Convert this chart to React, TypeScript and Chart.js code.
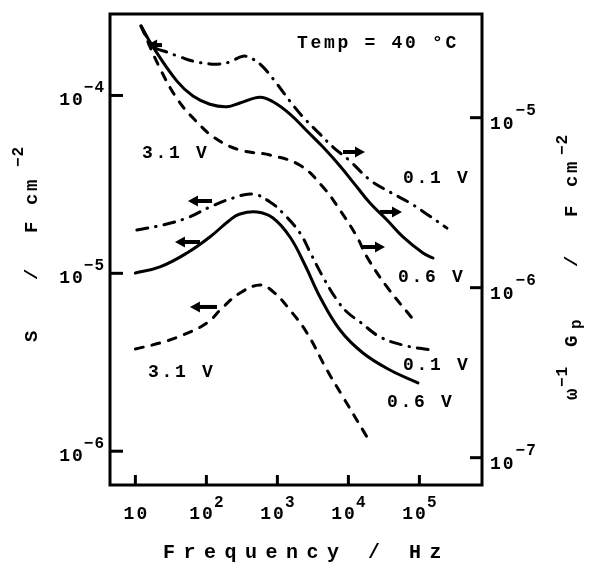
import React, { useEffect, useRef } from 'react';
import { Chart, registerables } from 'chart.js';
Chart.register(...registerables);

// ---- axis ticks (decades) ----
const xTickValues = [10, 100, 1000, 10000, 100000];
const xTickExps = ['', '2', '3', '4', '5'];
const leftTickValues = [1e-4, 1e-5, 1e-6];
const leftTickExps = ['−4', '−5', '−6'];
const rightTickValues = [1e-5, 1e-6, 1e-7];
const rightTickExps = ['−5', '−6', '−7'];

// ---- upper group: ω⁻¹Gp (right axis) ----
const fUp01 = [12.0, 17.7, 27.9, 42.5, 64.7, 112, 155, 215, 328, 453, 627, 987, 1505, 2294, 3981, 6067, 10530, 20140, 38550, 73760, 132200, 244700];
const vUp01 = [3.46e-5, 2.64e-5, 2.43e-5, 2.28e-5, 2.15e-5, 2.07e-5, 2.07e-5, 2.13e-5, 2.30e-5, 2.21e-5, 1.99e-5, 1.58e-5, 1.25e-5, 1.01e-5, 8.01e-6, 6.72e-6, 5.56e-6, 4.30e-6, 3.65e-6, 3.15e-6, 2.68e-6, 2.24e-6];
const fUp06 = [12.0, 17.7, 38.5, 64.7, 112, 195, 297, 569, 867, 1505, 2612, 4389, 7616, 13210, 20140, 34980, 58750, 112400, 155500];
const vUp06 = [3.46e-5, 2.61e-5, 1.64e-5, 1.34e-5, 1.20e-5, 1.16e-5, 1.22e-5, 1.32e-5, 1.24e-5, 1.05e-5, 8.35e-6, 6.72e-6, 5.20e-6, 3.91e-6, 3.15e-6, 2.50e-6, 1.99e-6, 1.60e-6, 1.495e-6];
const fUp31 = [12.0, 22.2, 39.8, 69.1, 132, 297, 787, 2081, 4389, 7616, 13210, 18280, 34980, 78660];
const vUp31 = [3.46e-5, 1.95e-5, 1.27e-5, 9.69e-6, 7.59e-6, 6.45e-6, 6.03e-6, 5.25e-6, 3.91e-6, 2.86e-6, 1.99e-6, 1.515e-6, 1.01e-6, 6.64e-7];

// ---- lower group: S (left axis) ----
const fLo01 = [10.5, 24.5, 53.3, 112, 237, 453, 787, 1199, 2081, 2878, 4389, 6906, 9556, 14560, 27860, 58750, 141000];
const vLo01 = [1.753e-5, 1.871e-5, 2.048e-5, 2.36e-5, 2.65e-5, 2.79e-5, 2.52e-5, 2.18e-5, 1.686e-5, 1.318e-5, 9.54e-6, 7.08e-6, 6.06e-6, 5.33e-6, 4.39e-6, 3.95e-6, 3.71e-6];
const fLo06 = [10.0, 22.2, 53.3, 112, 215, 297, 516, 867, 1505, 2447, 3981, 7616, 16060, 38550, 95500];
const vLo06 = [1.004e-5, 1.086e-5, 1.301e-5, 1.601e-5, 1.995e-5, 2.157e-5, 2.213e-5, 2.048e-5, 1.601e-5, 1.114e-5, 7.36e-6, 4.80e-6, 3.565e-6, 2.86e-6, 2.42e-6];
const fLo31 = [10.0, 22.2, 46.8, 102, 167, 297, 569, 867, 1505, 2612, 4995, 8395, 18280];
const vLo31 = [3.755e-6, 4.06e-6, 4.50e-6, 5.26e-6, 6.39e-6, 7.75e-6, 8.60e-6, 7.9e-6, 6.22e-6, 4.62e-6, 2.86e-6, 2.018e-6, 1.202e-6];

// ---- text annotations (data coords, left axis) ----
const labelTexts = ['Temp = 40 °C', '3.1 V', '3.1 V', '0.1 V', '0.6 V', '0.1 V', '0.6 V'];
const labelFreq = [1888, 12.4, 15.0, 58750, 49950, 58750, 34980];
const labelVal = [1.85e-4, 4.45e-5, 2.614e-6, 3.22e-5, 8.94e-6, 2.86e-6, 1.772e-6];

// ---- arrows (data coords, left axis): tail -> head ----
const arrowFrom = [8395, 27860, 16060, 120, 81.3, 141, 23.7];
const arrowTo = [17130, 56880, 32770, 55.0, 36.1, 58.7, 14.6];
const arrowVal = [4.81e-5, 2.213e-5, 1.406e-5, 2.55e-5, 1.50e-5, 6.47e-6, 1.92e-4];

const MONO = '"Liberation Mono", "DejaVu Sans Mono", monospace';
const BASE = `bold 18px ${MONO}`;
const EXP = `bold 16px ${MONO}`;
const TITLE = `bold 19px ${MONO}`;

function spacedWidth(ctx: CanvasRenderingContext2D, text: string, sp: number) {
  let w = 0;
  for (const ch of text) w += ctx.measureText(ch).width + sp;
  return w - sp;
}
function drawSpaced(ctx: CanvasRenderingContext2D, text: string, x: number, y: number, sp: number) {
  let cx = x;
  for (const ch of text) {
    ctx.fillText(ch, cx, y);
    cx += ctx.measureText(ch).width + sp;
  }
  return cx - sp;
}

type Seg = { t: string; d: number; o: number; f: string; sp: number };

function drawVertical(ctx: CanvasRenderingContext2D, bx: number, oy: number, segs: Seg[]) {
  ctx.save();
  ctx.translate(bx, oy);
  ctx.rotate(-Math.PI / 2);
  for (const s of segs) {
    ctx.font = s.f;
    drawSpaced(ctx, s.t, s.d, -s.o, s.sp);
  }
  ctx.restore();
}

const overlay = {
  id: 'overlay',
  afterDraw(chart: any) {
    const { ctx, chartArea: a, scales } = chart;
    const sx = scales.x, sy = scales.y, sy1 = scales.y1;
    ctx.save();
    ctx.strokeStyle = '#000';
    ctx.fillStyle = '#000';
    ctx.lineWidth = 3;
    ctx.lineCap = 'butt';
    ctx.strokeRect(a.left, a.top, a.right - a.left, a.bottom - a.top);

    const seg = (x1: number, y1: number, x2: number, y2: number) => {
      ctx.beginPath(); ctx.moveTo(x1, y1); ctx.lineTo(x2, y2); ctx.stroke();
    };
    // inward ticks
    xTickValues.forEach((v) => { const p = sx.getPixelForValue(v); seg(p, a.bottom, p, a.bottom - 10); });
    leftTickValues.forEach((v) => { const p = sy.getPixelForValue(v); seg(a.left, p, a.left + 13, p); });
    rightTickValues.forEach((v) => { const p = sy1.getPixelForValue(v); seg(a.right, p, a.right - 12, p); });

    ctx.textBaseline = 'alphabetic';
    ctx.textAlign = 'left';
    // x tick labels
    xTickValues.forEach((v, i) => {
      const p = sx.getPixelForValue(v);
      ctx.font = BASE;
      const w10 = spacedWidth(ctx, '10', 2);
      const e = xTickExps[i];
      ctx.font = EXP;
      const we = e ? spacedWidth(ctx, e, 1) + 1 : 0;
      const start = p - (w10 + we) / 2;
      ctx.font = BASE;
      drawSpaced(ctx, '10', start, a.bottom + 34, 2);
      if (e) { ctx.font = EXP; drawSpaced(ctx, e, start + w10 + 1, a.bottom + 22, 1); }
    });
    // left tick labels
    leftTickValues.forEach((v, i) => {
      const p = sy.getPixelForValue(v);
      ctx.font = EXP;
      const we = spacedWidth(ctx, leftTickExps[i], 1);
      ctx.font = BASE;
      const w10 = spacedWidth(ctx, '10', 2);
      const right = a.left - 6;
      drawSpaced(ctx, '10', right - we - 1 - w10, p + 10, 2);
      ctx.font = EXP;
      drawSpaced(ctx, leftTickExps[i], right - we, p - 3, 1);
    });
    // right tick labels
    rightTickValues.forEach((v, i) => {
      const p = sy1.getPixelForValue(v);
      ctx.font = BASE;
      const end = drawSpaced(ctx, '10', a.right + 8, p + 11, 2);
      ctx.font = EXP;
      drawSpaced(ctx, rightTickExps[i], end + 2, p - 3, 1);
    });

    // axis titles
    ctx.font = `bold 20px ${MONO}`;
    drawSpaced(ctx, 'Frequency / Hz', 163, 558, 8.5);
    drawVertical(ctx, 37, 342, [
      { t: 'S', d: 0, o: 0, f: TITLE, sp: 0 },
      { t: '/', d: 62, o: 0, f: TITLE, sp: 0 },
      { t: 'F', d: 109, o: 0, f: TITLE, sp: 0 },
      { t: 'cm', d: 137, o: 0, f: TITLE, sp: 2.5 },
      { t: '−2', d: 175, o: 14, f: EXP, sp: 1 },
    ]);
    drawVertical(ctx, 577, 400, [
      { t: 'ω', d: 0, o: 0, f: TITLE, sp: 0 },
      { t: '−1', d: 13, o: 10, f: EXP, sp: 1 },
      { t: 'G', d: 53, o: 0, f: TITLE, sp: 0 },
      { t: 'p', d: 71, o: -4, f: EXP, sp: 0 },
      { t: '/', d: 133, o: 0, f: TITLE, sp: 0 },
      { t: 'F', d: 183, o: 0, f: TITLE, sp: 0 },
      { t: 'cm', d: 213, o: 0, f: TITLE, sp: 2.5 },
      { t: '−2', d: 245, o: 10, f: EXP, sp: 1 },
    ]);

    // in-plot labels
    ctx.font = BASE;
    labelTexts.forEach((t, i) => {
      drawSpaced(ctx, t, sx.getPixelForValue(labelFreq[i]), sy.getPixelForValue(labelVal[i]), 2.7);
    });

    // arrows
    arrowFrom.forEach((f, i) => {
      const x1 = sx.getPixelForValue(f);
      const x2 = sx.getPixelForValue(arrowTo[i]);
      const yy = sy.getPixelForValue(arrowVal[i]);
      const dir = Math.sign(x2 - x1);
      const head = 9;
      ctx.lineWidth = 4;
      seg(x1, yy, x2 - dir * head, yy);
      ctx.beginPath();
      ctx.moveTo(x2, yy);
      ctx.lineTo(x2 - dir * (head + 1), yy - 5.5);
      ctx.lineTo(x2 - dir * (head + 1), yy + 5.5);
      ctx.closePath();
      ctx.fill();
    });
    ctx.restore();
  },
};

function series(f: number[], v: number[], axis: string, dash: number[], label: string) {
  return {
    label,
    data: f.map((x, i) => ({ x, y: v[i] })),
    yAxisID: axis,
    borderColor: '#000',
    borderWidth: 3,
    borderDash: dash,
    borderCapStyle: 'round' as const,
    borderJoinStyle: 'round' as const,
    pointRadius: 0,
    fill: false,
    tension: 0.4,
  };
}

export default function App() {
  const ref = useRef<HTMLCanvasElement | null>(null);
  useEffect(() => {
    if (!ref.current) return;
    const DASHDOT = [11, 8, 0.5, 8];
    const DASH = [8, 9];
    const chart = new Chart(ref.current, {
      type: 'line',
      data: {
        datasets: [
          series(fUp01, vUp01, 'y1', DASHDOT, 'ω⁻¹Gp 0.1 V'),
          series(fUp06, vUp06, 'y1', [], 'ω⁻¹Gp 0.6 V'),
          series(fUp31, vUp31, 'y1', DASH, 'ω⁻¹Gp 3.1 V'),
          series(fLo01, vLo01, 'y', DASHDOT, 'S 0.1 V'),
          series(fLo06, vLo06, 'y', [], 'S 0.6 V'),
          series(fLo31, vLo31, 'y', DASH, 'S 3.1 V'),
        ] as any,
      },
      options: {
        animation: false,
        responsive: false,
        devicePixelRatio: 1,
        layout: { padding: { left: 110, right: 111, top: 14, bottom: 78 } },
        plugins: { legend: { display: false }, tooltip: { enabled: false } },
        scales: {
          x: { type: 'logarithmic', min: 4.39, max: 7.62e5, display: false },
          y: { type: 'logarithmic', position: 'left', min: 6.455e-7, max: 2.871e-4, display: false },
          y1: { type: 'logarithmic', position: 'right', min: 6.907e-8, max: 4.073e-5, display: false },
        },
      } as any,
      plugins: [overlay],
    });
    return () => chart.destroy();
  }, []);
  return (
    <div style={{ position: 'absolute', left: 0, top: 0, width: 593, height: 563, background: '#fff' }}>
      <canvas ref={ref} width={593} height={563} style={{ width: 593, height: 563, display: 'block' }} />
    </div>
  );
}
